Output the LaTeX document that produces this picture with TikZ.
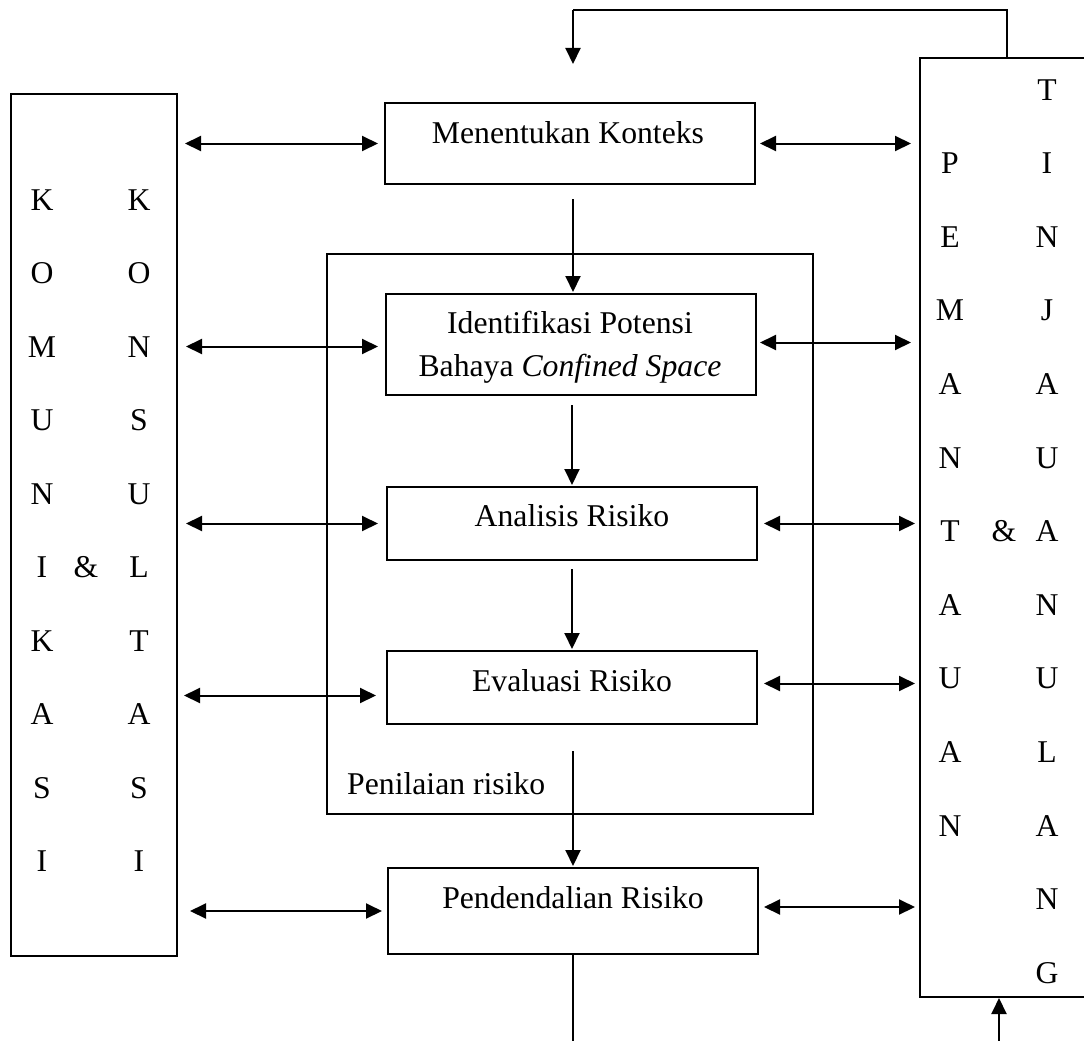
\documentclass[tikz,border=0pt]{standalone}
\usepackage{fontspec}
\setmainfont{Liberation Serif}
\usetikzlibrary{arrows.meta}
\begin{document}
\begin{tikzpicture}[x=1pt,y=-1pt,
  txt/.style={font=\fontsize{31.7}{43}\selectfont, inner sep=0pt, anchor=base},
  boxn/.style={draw, line width=2pt, inner sep=0pt, minimum width=370pt},
  ln/.style={line width=2pt},
  tri/.style={ln, -{Triangle[length=16pt,width=15pt]}},
  dbl/.style={ln, {Triangle[length=16pt,width=15pt]}-{Triangle[length=16pt,width=15pt]}}]
\useasboundingbox (0,0) rectangle (1084,1041);
% side boxes
\node[draw, line width=2pt, inner sep=0pt, minimum width=166pt, minimum height=862pt] (kk) at (94,525) {};
\node[draw, line width=2pt, inner sep=0pt, minimum width=180pt, minimum height=939pt] (tp) at (1010,527.5) {};
% assessment frame
\node[draw, line width=2pt, inner sep=0pt, minimum width=486pt, minimum height=560pt] (pn) at (570,534) {};
\node[txt, anchor=base west] (pnt) at (347,794) {Penilaian risiko};
% central boxes
\node[boxn, minimum height=81pt] (mk) at (570,143.5) {};
\node[boxn, minimum height=101pt] (ip) at (571,344.5) {};
\node[boxn, minimum height=73pt] (ar) at (572,523.5) {};
\node[boxn, minimum height=73pt] (er) at (572,687.5) {};
\node[boxn, minimum height=86pt] (pr) at (573,911) {};
\node[txt] (mkt) at (568,143) {Menentukan Konteks};
\node[txt] (ipt1) at (570,333) {Identifikasi Potensi};
\node[txt] (ipt2) at (570,376) {Bahaya \textit{Confined Space}};
\node[txt] (art) at (572,526) {Analisis Risiko};
\node[txt] (ert) at (572,691) {Evaluasi Risiko};
\node[txt] (prt) at (573,908) {Pendendalian Risiko};
% letters left box
\foreach \c [count=\i from 0] in {K,O,M,U,N,I,K,A,S,I}
  \node[txt, anchor=base] (la\i) at (42,210+73.5*\i) {\c};
\foreach \c [count=\i from 0] in {K,O,N,S,U,L,T,A,S,I}
  \node[txt, anchor=base] (lb\i) at (139,210+73.5*\i) {\c};
\node[txt] (lamp) at (86,210+73.5*5) {\&};
% letters right box
\foreach \c [count=\i from 1] in {P,E,M,A,N,T,A,U,A,N}
  \node[txt, anchor=base] (ra\i) at (950,100+73.6*\i) {\c};
\foreach \c [count=\i from 0] in {T,I,N,J,A,U,A,N,U,L,A,N,G}
  \node[txt, anchor=base] (rb\i) at (1047,100+73.6*\i) {\c};
\node[txt] (ramp) at (1004,100+73.6*6) {\&};
% vertical flow
\draw[tri, shorten <=14pt, shorten >=1pt] ([xshift=3pt]mk.south) -- ([xshift=3pt]mk.south |- ip.north);
\draw[tri, shorten <=9pt, shorten >=1pt] (ip.south -| ar.north) -- (ar.north);
\draw[tri, shorten <=8pt, shorten >=1pt] (ar.south) -- (er.north);
\draw[tri, shorten <=26pt, shorten >=1pt] (er.south -| pr.north) -- (pr.north);
\coordinate (bout) at (573,1050);
\draw[ln] (pr.south) -- (bout);
% loop on top
\coordinate (ltop) at (573,10);
\coordinate (ltip) at (573,64);
\draw[ln] ([xshift=-3pt]tp.north) |- (ltop);
\draw[tri] (ltop) -- (ltip);
% bottom arrow into right box
\coordinate (bin) at (999,1050);
\draw[tri] (bin) -- (bin |- tp.south);
% left double arrows
\draw[dbl, shorten <=7pt, shorten >=6pt] (kk.east |- mk.west) -- (mk.west);
\draw[dbl, shorten <=8pt, shorten >=7pt] ([yshift=-2pt]kk.east |- ip.west) -- ([yshift=-2pt]ip.west);
\draw[dbl, shorten <=8pt, shorten >=8pt] (kk.east |- ar.west) -- (ar.west);
\draw[dbl, shorten <=6pt, shorten >=10pt] ([yshift=-8pt]kk.east |- er.west) -- ([yshift=-8pt]er.west);
\draw[dbl, shorten <=12pt, shorten >=5pt] (kk.east |- pr.west) -- (pr.west);
% right double arrows
\draw[dbl, shorten <=4pt, shorten >=8pt] (mk.east) -- (mk.east -| tp.west);
\draw[dbl, shorten <=3pt, shorten >=8pt] ([yshift=2pt]ip.east) -- ([yshift=2pt]ip.east -| tp.west);
\draw[dbl, shorten <=6pt, shorten >=4pt] (ar.east) -- (ar.east -| tp.west);
\draw[dbl, shorten <=6pt, shorten >=4pt] ([yshift=4pt]er.east) -- ([yshift=4pt]er.east -| tp.west);
\draw[dbl, shorten <=5pt, shorten >=4pt] ([yshift=4pt]pr.east) -- ([yshift=4pt]pr.east -| tp.west);
\end{tikzpicture}
\end{document}
